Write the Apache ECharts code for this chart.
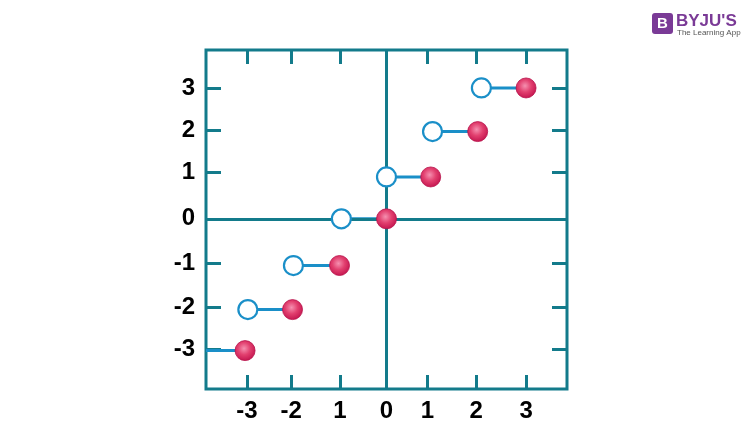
<!DOCTYPE html>
<html>
<head>
<meta charset="utf-8">
<script src="https://cdn.jsdelivr.net/npm/echarts@6/dist/echarts.min.js"></script>
<style>html,body{margin:0;padding:0;background:#fff}#c{width:750px;height:442px}</style>
</head>
<body>
<div id="c"></div>
<script>
// Tick positions and labels (as printed in the picture)
var xTickValues = [-3, -2.05, -1.0, 0, 0.88, 1.93, 3];
var xTickLabels = ['-3', '-2', '1', '0', '1', '2', '3'];
var yTickValues = [-2.99, -2.03, -1.02, 0, 1.06, 2.02, 3];
var yTickLabels = ['-3', '-2', '-1', '0', '1', '2', '3'];

// Open circles (left end of each step)
var openX = [-2.98, -2.0, -0.97, 0, 0.99, 2.04];
var openY = [-2.08, -1.07, 0, 0.96, 2.0, 3.0];
// Filled circles (right end of each step)
var filledX = [-3.04, -2.02, -1.01, 0, 0.95, 1.96, 3.0];
var filledY = [-3.02, -2.08, -1.07, 0, 0.96, 2.0, 3.0];
// Start of each step segment (first one comes in from the frame)
var segStartX = [-3.88, -2.98, -2.0, -0.97, 0, 0.99, 2.04];

var xMin = -3.88, xMax = 3.88, yMin = -3.9, yMax = 3.87;

var teal = '#137b8b';
var blue = '#1a8fc8';

var chart = echarts.init(document.getElementById('c'));

var segSeries = filledX.map(function (fx, i) {
  return {
    type: 'line', xAxisIndex: 0, yAxisIndex: 0,
    data: [[segStartX[i], filledY[i]], [fx, filledY[i]]],
    symbol: 'none', silent: true, z: 3,
    lineStyle: { color: blue, width: 3 }
  };
});

function tickFmt(vals, labels) {
  return function (v) {
    for (var i = 0; i < vals.length; i++) if (Math.abs(vals[i] - v) < 1e-6) return labels[i];
    return '';
  };
}

function lbl(vals, labels, margin) {
  return { show: true, margin: margin, customValues: vals, formatter: tickFmt(vals, labels),
    color: '#000', fontSize: 24, fontWeight: 'bold', fontFamily: 'Liberation Sans' };
}
function tick(vals, len) {
  return { show: true, inside: true, length: len, customValues: vals, lineStyle: { color: teal, width: 3 } };
}
var noLine = { show: false, onZero: false };

chart.setOption({
  animation: false,
  grid: { left: 206, right: 183, top: 50, bottom: 53, show: true, borderColor: teal, borderWidth: 3, backgroundColor: 'transparent' },
  xAxis: [
    { type: 'value', position: 'bottom', min: xMin, max: xMax,
      axisLine: noLine, splitLine: { show: false },
      axisTick: tick(xTickValues, 14), axisLabel: lbl(xTickValues, xTickLabels, 10) },
    { type: 'value', position: 'top', min: xMin, max: xMax,
      axisLine: noLine, splitLine: { show: false },
      axisTick: tick(xTickValues, 14), axisLabel: { show: false } }
  ],
  yAxis: [
    { type: 'value', position: 'left', min: yMin, max: yMax,
      axisLine: noLine, splitLine: { show: false },
      axisTick: tick(yTickValues, 15), axisLabel: lbl(yTickValues, yTickLabels, 11) },
    { type: 'value', position: 'right', min: yMin, max: yMax,
      axisLine: noLine, splitLine: { show: false },
      axisTick: tick(yTickValues, 15), axisLabel: { show: false } }
  ],
  series: [
    { type: 'line', data: [], silent: true, z: 2,
      markLine: { silent: true, symbol: 'none', label: { show: false },
        lineStyle: { color: teal, width: 3, type: 'solid' },
        data: [{ xAxis: 0 }, { yAxis: 0 }] } }
  ].concat(segSeries).concat([
    { type: 'scatter', data: openX.map(function (x, i) { return [x, openY[i]]; }),
      symbol: 'circle', symbolSize: 19, z: 5, silent: true,
      itemStyle: { color: '#fff', borderColor: blue, borderWidth: 2.2, opacity: 1 } },
    { type: 'scatter', data: filledX.map(function (x, i) { return [x, filledY[i]]; }),
      symbol: 'circle', symbolSize: 20, z: 6, silent: true,
      itemStyle: { opacity: 1, borderColor: '#b8124a', borderWidth: 0.8,
        color: { type: 'radial', x: 0.45, y: 0.4, r: 0.6,
          colorStops: [{ offset: 0, color: '#f590b0' }, { offset: 0.5, color: '#e2406f' }, { offset: 1, color: '#c4154f' }] } } }
  ]),
  graphic: [
    { type: 'rect', shape: { x: 652, y: 13, width: 21, height: 21, r: 3 }, style: { fill: '#7a3a96' } },
    { type: 'text', style: { x: 662.5, y: 23.5, text: 'B', fill: '#fff', font: 'bold 15px Liberation Sans, Arial', align: 'center', verticalAlign: 'middle' } },
    { type: 'text', style: { x: 676, y: 13, text: "BYJU'S", fill: '#7a3a96', font: 'bold 17px Liberation Sans, Arial', align: 'left', verticalAlign: 'top' } },
    { type: 'text', style: { x: 677, y: 29, text: 'The Learning App', fill: '#555', font: '8px Liberation Sans, Arial', align: 'left', verticalAlign: 'top' } }
  ]
});
</script>
</body>
</html>
